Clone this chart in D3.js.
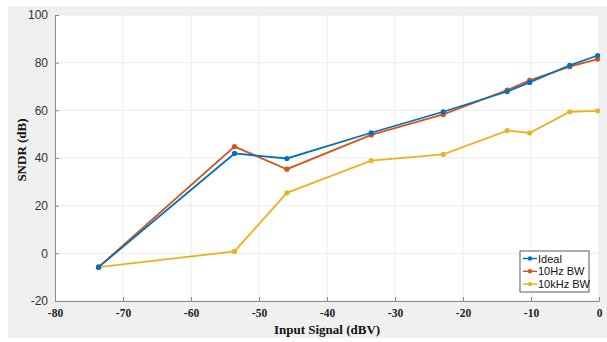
<!DOCTYPE html>
<html>
<head>
<meta charset="utf-8">
<script src="https://cdn.jsdelivr.net/npm/d3@7"></script>
<style>
  body { margin: 0; background: #fff; }
  svg { display: block; }
</style>
</head>
<body>
<svg id="chart" width="607" height="342"></svg>
<script>
// input levels (dBV) and SNDR for each case
var inputLevels = [-73.6, -53.6, -45.9, -33.5, -22.9, -13.5, -10.2, -4.3, -0.2];
var ideal   = [-5.8, 41.9, 39.8, 50.6, 59.4, 67.9, 71.7, 78.9, 83.0];
var bw10Hz  = [-5.8, 44.8, 35.3, 49.7, 58.3, 68.5, 72.6, 78.3, 81.5];
var bw10kHz = [-5.8, 0.8, 25.4, 38.9, 41.5, 51.5, 50.5, 59.4, 59.8];
var seriesNames = ['Ideal', '10Hz BW', '10kHz BW'];
var seriesColors = ['#0072BD', '#D95319', '#EDB120'];
var xTicks = [-80, -70, -60, -50, -40, -30, -20, -10, 0];
var yTicks = [-20, 0, 20, 40, 60, 80, 100];

var svg = d3.select('#chart');

// grey figure background
svg.append('rect')
  .attr('x', 8).attr('y', 6)
  .attr('width', 599).attr('height', 332)
  .attr('fill', '#f0f0f0');

var margin = {left: 55, right: 8, top: 15, bottom: 41};
var w = 607 - margin.left - margin.right;
var h = 342 - margin.top - margin.bottom;

var xScale = d3.scaleLinear().domain([-80, 0]).range([0, w]);
var yScale = d3.scaleLinear().domain([-20, 100]).range([h, 0]);

var g = svg.append('g')
  .attr('transform', 'translate(' + margin.left + ',' + margin.top + ')');

// white plot area
g.append('rect').attr('width', w).attr('height', h).attr('fill', '#fff');

// grid lines
g.append('g').selectAll('line').data(xTicks).enter().append('line')
  .attr('x1', d => xScale(d)).attr('x2', d => xScale(d))
  .attr('y1', 0).attr('y2', h)
  .attr('stroke', '#ebebeb').attr('stroke-width', 1);
g.append('g').selectAll('line').data(yTicks).enter().append('line')
  .attr('y1', d => yScale(d)).attr('y2', d => yScale(d))
  .attr('x1', 0).attr('x2', w)
  .attr('stroke', '#ebebeb').attr('stroke-width', 1);

// axes, ticks pointing inward, plain hyphen for minus like the original
var fmt = d => String(d);
var xAxis = d3.axisBottom(xScale).tickValues(xTicks).tickFormat(fmt)
  .tickSizeInner(-4).tickSizeOuter(0).tickPadding(8);
var yAxis = d3.axisLeft(yScale).tickValues(yTicks).tickFormat(fmt)
  .tickSizeInner(-4).tickSizeOuter(0).tickPadding(7);

var gx = g.append('g')
  .attr('transform', 'translate(0,' + h + ')')
  .call(xAxis);
gx.select('.domain').attr('stroke', '#8a8a8a');
gx.selectAll('.tick line').attr('stroke', '#8a8a8a');
gx.selectAll('.tick text')
  .attr('fill', '#222')
  .style('font-family', '"Liberation Serif", "Times New Roman", serif')
  .style('font-weight', 'bold')
  .style('font-size', '11.5px');

var gy = g.append('g').call(yAxis);
gy.select('.domain').attr('stroke', '#8a8a8a');
gy.selectAll('.tick line').attr('stroke', '#8a8a8a');
gy.selectAll('.tick text')
  .attr('fill', '#333')
  .style('font-family', '"Liberation Sans", Arial, sans-serif')
  .style('font-size', '12px');

// axis titles
svg.append('text')
  .attr('x', margin.left + w / 2).attr('y', 334)
  .attr('text-anchor', 'middle')
  .style('font-family', '"Liberation Serif", "Times New Roman", serif')
  .style('font-weight', 'bold')
  .style('font-size', '13px')
  .attr('fill', '#111')
  .text('Input Signal (dBV)');

svg.append('text')
  .attr('transform', 'translate(26,' + (margin.top + h / 2 - 8) + ') rotate(-90)')
  .attr('text-anchor', 'middle')
  .style('font-family', '"Liberation Serif", "Times New Roman", serif')
  .style('font-weight', 'bold')
  .style('font-size', '13px')
  .attr('fill', '#111')
  .text('SNDR (dB)');

// series lines and markers
var allSeries = [ideal, bw10Hz, bw10kHz];
var line = d3.line()
  .x((d, i) => xScale(inputLevels[i]))
  .y(d => yScale(d));

// draw back to front so blue sits on top like the reference
[2, 1, 0].forEach(function(s) {
  var vals = allSeries[s];
  g.append('path')
    .datum(vals)
    .attr('d', line)
    .attr('fill', 'none')
    .attr('stroke', seriesColors[s])
    .attr('stroke-width', 1.8);
  g.append('g').selectAll('circle').data(vals).enter().append('circle')
    .attr('cx', (d, i) => xScale(inputLevels[i]))
    .attr('cy', d => yScale(d))
    .attr('r', 2.6)
    .attr('fill', seriesColors[s]);
});

// legend
var legend = svg.append('g').attr('transform', 'translate(520,251)');
legend.append('rect')
  .attr('width', 69).attr('height', 41)
  .attr('fill', '#fff')
  .attr('stroke', '#333').attr('stroke-width', 0.8);
seriesNames.forEach(function(name, i) {
  var yy = 7.5 + i * 12.8;
  legend.append('line')
    .attr('x1', 3).attr('x2', 17).attr('y1', yy).attr('y2', yy)
    .attr('stroke', seriesColors[i]).attr('stroke-width', 1.5);
  legend.append('circle')
    .attr('cx', 10).attr('cy', yy).attr('r', 2.2)
    .attr('fill', seriesColors[i]);
  legend.append('text')
    .attr('x', 18).attr('y', yy + 4)
    .style('font-family', '"Liberation Sans", Arial, sans-serif')
    .style('font-size', '11px')
    .attr('fill', '#111')
    .text(name);
});
</script>
</body>
</html>
